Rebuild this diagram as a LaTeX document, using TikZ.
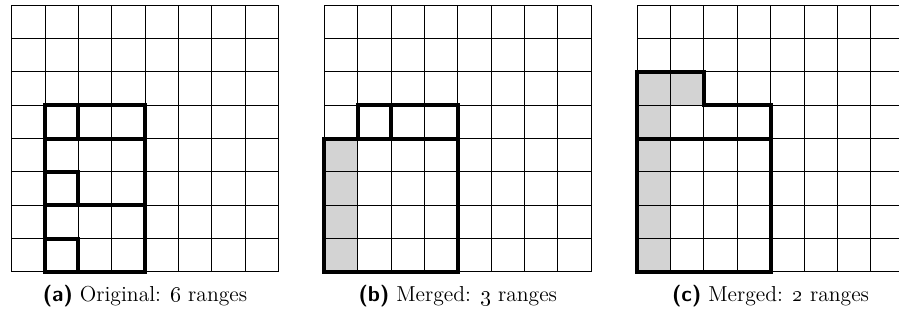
\documentclass[tikz,border=0pt]{standalone}
\usepackage{tikz}
\definecolor{cellgray}{HTML}{D3D3D3}
\tikzset{cell/.style={line width=0.5pt},
  rangeline/.style={line width=2.2pt,line cap=rect,line join=miter},
  caption/.style={anchor=base,font=\fontsize{12pt}{14pt}\selectfont}}
\newcommand{\sublabel}[1]{\textsf{\textbf{(#1)}}}
\newcommand{\cellgrid}{\foreach \i in {0,...,8} {\draw[cell] (\i,0) -- (\i,8) (0,\i) -- (8,\i);}}

\begin{document}
\begin{tikzpicture}[x=0.65cm,y=0.65cm]
\clip (0,0) rectangle (26.96,9.655);
\begin{scope}[shift={(0.35,1.5)}]
\cellgrid
\draw[rangeline] (1,0) rectangle (4,5);
\draw[rangeline] (1,4) -- (4,4) (2,4) -- (2,5) (1,2) -- (4,2) (1,3) -| (2,2) (1,1) -| (2,0);
\node[caption] (capa) at (4,-0.9) {\sublabel{a} Original: \oldstylenums{6} ranges};
\end{scope}
\begin{scope}[shift={(9.73,1.5)}]
\fill[cellgray] (0,0) rectangle (1,4);
\cellgrid
\draw[rangeline] (0,0) rectangle (4,4);
\draw[rangeline] (1,4) |- (4,5) -- (4,4) (2,4) -- (2,5);
\node[caption] (capb) at (4,-0.9) {\sublabel{b} Merged: \oldstylenums{3} ranges};
\end{scope}
\begin{scope}[shift={(19.11,1.5)}]
\fill[cellgray] (0,0) rectangle (1,6) (1,5) rectangle (2,6);
\cellgrid
\draw[rangeline] (0,0) -- (0,6) -- (2,6) -- (2,5) -- (4,5) -- (4,0) -- cycle;
\draw[rangeline] (0,4) -- (4,4);
\node[caption] (capc) at (4,-0.9) {\sublabel{c} Merged: \oldstylenums{2} ranges};
\end{scope}
\end{tikzpicture}
\end{document}
